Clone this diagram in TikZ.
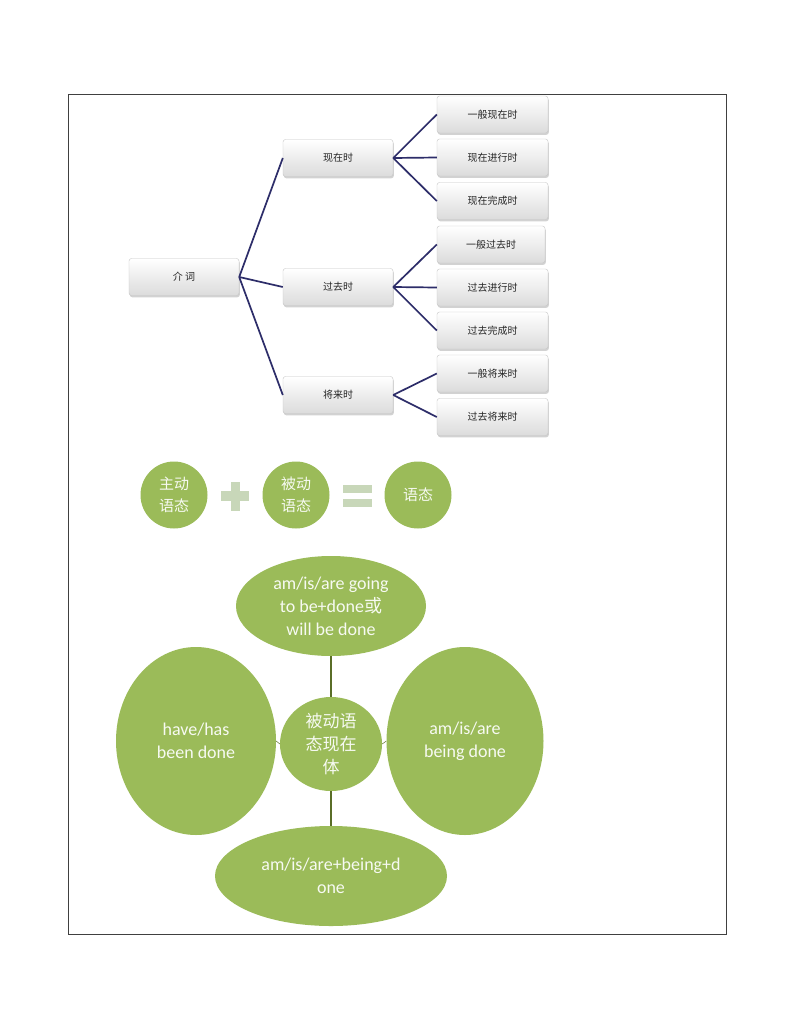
\documentclass[tikz,border=0pt]{standalone}
\usepackage{fontspec}
\setmainfont{Carlito}
\newfontfamily\cjk{Noto Sans CJK SC}
\newfontfamily\cjkl{Noto Sans CJK SC}
\usetikzlibrary{shapes.geometric,shadows}
\definecolor{olivegreen}{RGB}{155,187,89}
\definecolor{navyline}{RGB}{45,45,105}
\definecolor{linkgreen}{RGB}{90,110,40}
\definecolor{signgray}{RGB}{200,215,185}
\tikzset{
  tbox/.style={rectangle, rounded corners=2.5pt, draw=gray!45, line width=0.4pt,
    top color=white, bottom color=gray!28, minimum width=110pt, minimum height=37pt,
    font=\cjk\fontsize{10}{12}\selectfont, text=black!85,
    drop shadow={opacity=0.35, shadow xshift=0.8pt, shadow yshift=-1.8pt}},
  tline/.style={draw=navyline, line width=1.7pt},
  gcirc/.style={ellipse, fill=olivegreen, draw=none, text=white!92!olivegreen, align=center,
    inner sep=0pt},
  glink/.style={draw=linkgreen, line width=1.8pt},
}
\begin{document}
\begin{tikzpicture}[x=1pt,y=-1pt]
\useasboundingbox (0,0) rectangle (794,1028);
\fill[white] (0,0) rectangle (794,1028);
\draw[black!75, line width=0.6pt] (68,94) rectangle (726,934);

% tree
\node[tbox] (root) at (184,277) {介 词};
\node[tbox] (pres) at (338,158) {现在时};
\node[tbox] (past) at (338,287) {过去时};
\node[tbox] (fut)  at (338,395) {将来时};
\node[tbox, minimum width=111pt] (l1) at (492.5,114.5) {一般现在时};
\node[tbox, minimum width=111pt] (l2) at (492.5,157.5) {现在进行时};
\node[tbox, minimum width=111pt] (l3) at (492.5,201) {现在完成时};
\node[tbox, minimum width=108pt] (l4) at (491,244.5) {一般过去时};
\node[tbox, minimum width=111pt] (l5) at (492.5,287.5) {过去进行时};
\node[tbox, minimum width=111pt] (l6) at (492.5,330.5) {过去完成时};
\node[tbox, minimum width=111pt] (l7) at (492.5,373.5) {一般将来时};
\node[tbox, minimum width=111pt] (l8) at (492.5,417) {过去将来时};

\draw[tline] (root.east) -- (pres.west);
\draw[tline] (root.east) -- (past.west);
\draw[tline] (root.east) -- (fut.west);
\foreach \l in {l1,l2,l3} \draw[tline] (pres.east) -- (\l.west);
\foreach \l in {l4,l5,l6} \draw[tline] (past.east) -- (\l.west);
\foreach \l in {l7,l8} \draw[tline] (fut.east) -- (\l.west);

% equation row
\node[gcirc, minimum width=67pt, minimum height=67pt, font=\cjkl\fontsize{15}{22}\selectfont] (act) at (174,495) {主动\\语态};
\node[gcirc, minimum width=67pt, minimum height=67pt, font=\cjkl\fontsize{15}{22}\selectfont] (pas) at (296,495) {被动\\语态};
\node[gcirc, minimum width=67pt, minimum height=67pt, font=\cjkl\fontsize{15}{22}\selectfont] (voice) at (418,495) {语态};
\fill[signgray] (221,491) rectangle (249,501);
\fill[signgray] (231,482) rectangle (240,511);
\fill[signgray] (343,485) rectangle (372,493);
\fill[signgray] (343,499) rectangle (372,507);

% bottom cluster
\node[gcirc, minimum width=102pt, minimum height=94pt, font=\cjkl\fontsize{17}{23}\selectfont] (ctr) at (331,744) {被动语\\态现在\\体};
\node[gcirc, minimum width=190pt, minimum height=100pt, font=\fontsize{18}{23}\selectfont] (top) at (331,606) {am/is/are going\\to be+done{\cjkl 或}\\will be done};
\node[gcirc, minimum width=160pt, minimum height=188pt, font=\fontsize{18}{23}\selectfont] (left) at (196,741) {have/has\\been done};
\node[gcirc, minimum width=157pt, minimum height=188pt, font=\fontsize{18}{23}\selectfont] (right) at (465,741) {am/is/are\\being done};
\node[gcirc, minimum width=232pt, minimum height=100pt, font=\fontsize{18}{23}\selectfont] (bot) at (331,876) {am/is/are+being+d\\one};

\draw[glink] (top.south) -- (ctr.north);
\draw[glink] (ctr.south) -- (bot.north);
\draw[glink, line width=0.5pt] (left.east) -- (ctr.west);
\draw[glink, line width=0.5pt] (ctr.east) -- (right.west);
\end{tikzpicture}
\end{document}
